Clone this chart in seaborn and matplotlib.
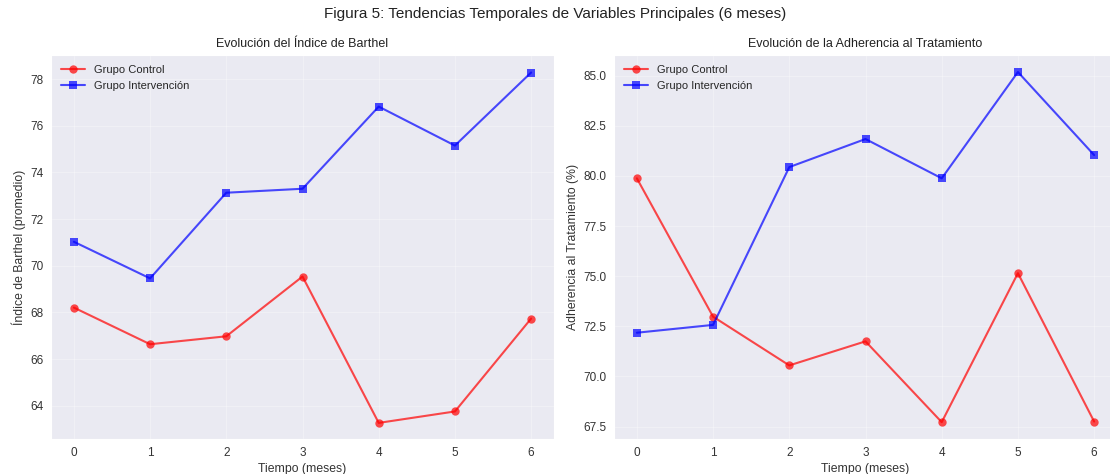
import matplotlib
matplotlib.use("Agg")
import matplotlib.pyplot as plt
import seaborn as sns
import pandas as pd

sns.set_style("darkgrid")
plt.rcParams['font.family'] = ['Liberation Sans', 'DejaVu Sans']

meses = [0, 1, 2, 3, 4, 5, 6]

barthel_control = [68.21, 66.64, 66.98, 69.54, 63.27, 63.76, 67.74]
barthel_intervencion = [71.03, 69.46, 73.13, 73.30, 76.82, 75.15, 78.28]

adherencia_control = [79.88, 72.98, 70.55, 71.75, 67.72, 75.15, 67.75]
adherencia_intervencion = [72.18, 72.57, 80.44, 81.84, 79.88, 85.18, 81.04]

paneles = [
    ("Evolución del Índice de Barthel", "Índice de Barthel (promedio)",
     barthel_control, barthel_intervencion),
    ("Evolución de la Adherencia al Tratamiento", "Adherencia al Tratamiento (%)",
     adherencia_control, adherencia_intervencion),
]

fig, axes = plt.subplots(1, 2, figsize=(11.1, 4.74), dpi=100)
axes[0].set_position([51 / 1110, 35 / 474, 503 / 1110, 384 / 474])
axes[1].set_position([614 / 1110, 35 / 474, 503 / 1110, 384 / 474])

for ax, (titulo, ylabel, control, intervencion) in zip(axes, paneles):
    df = pd.DataFrame({"mes": meses, "control": control, "intervencion": intervencion})
    sns.lineplot(data=df, x="mes", y="control", ax=ax, color="red", marker="o",
                 markersize=6, linewidth=1.5, alpha=0.7, markeredgewidth=0,
                 label="Grupo Control")
    sns.lineplot(data=df, x="mes", y="intervencion", ax=ax, color="blue", marker="s",
                 markersize=5.5, linewidth=1.5, alpha=0.7, markeredgewidth=0,
                 label="Grupo Intervención")
    ax.set_title(titulo, fontsize=9, color="#222222", pad=6)
    ax.set_xlabel("Tiempo (meses)", fontsize=8.8, color="#333333", labelpad=3)
    ax.set_ylabel(ylabel, fontsize=8.8, color="#333333", labelpad=3)
    ax.set_xticks(meses)
    ax.tick_params(labelsize=8.5, colors="#333333", pad=2)
    ax.grid(True, alpha=0.3)
    ax.legend(loc="upper left", frameon=False, fontsize=8, handlelength=2.2)

axes[0].set_ylim(62.58, 79.03)
axes[1].set_ylim(66.88, 86.03)

fig.suptitle("Figura 5: Tendencias Temporales de Variables Principales (6 meses)",
             fontsize=11, y=0.985, color="#222222")

fig.savefig("out.png", dpi=100)
